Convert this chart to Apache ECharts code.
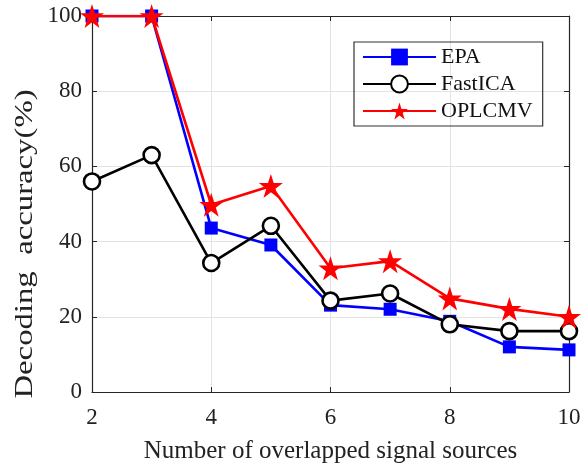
<!DOCTYPE html>
<html><head><meta charset="utf-8">
<script src="https://cdn.jsdelivr.net/npm/echarts@6/dist/echarts.min.js"></script>
<style>html,body{margin:0;padding:0;background:#fff}#c{width:581px;height:464px}</style>
</head><body><div id="c"></div>
<script>
var xValues = [2, 3, 4, 5, 6, 7, 8, 9, 10];
var epa = [100, 100, 43.6, 39.1, 23.1, 22, 18.8, 12, 11.2];
var fastica = [56, 63, 34.3, 44.2, 24.3, 26.2, 18, 16.2, 16.2];
var oplcmv = [100, 100, 49.8, 54.8, 32.9, 34.8, 24.9, 22.1, 20];
var yTicks = [0, 20, 40, 60, 80, 100];
var xTicks = [2, 4, 6, 8, 10];
var xTitle = 'Number of overlapped signal sources';
var yTitle = 'Decoding  accuracy(%)';

function pairs(v){ return xValues.map(function(x,i){ return [x, v[i]]; }); }
var font = '"Liberation Serif", "Times New Roman", serif';
var chart = echarts.init(document.getElementById('c'));
var axisBase = {
  axisLine: {show: true, onZero: false, lineStyle: {color: '#262626', width: 1.2}},
  axisTick: {show: true, inside: true, length: 5, lineStyle: {color: '#262626'}}
};
chart.setOption({
  animation: false,
  backgroundColor: '#fff',
  grid: {left: 92, right: 12, top: 16, bottom: 72, containLabel: false, outerBoundsMode: 'none'},
  legend: {
    orient: 'vertical', left: 354, top: 42,
    borderColor: '#333', borderWidth: 1.2,
    padding: [4, 10, 4, 8], itemGap: 5,
    itemWidth: 73, itemHeight: 21,
    textStyle: {fontFamily: font, fontSize: 22, color: '#111'},
    data: ['EPA', 'FastICA', 'OPLCMV']
  },
  graphic: [{
    type: 'text', x: 25, y: 244, rotation: Math.PI / 2, scaleX: 1.26,
    style: {text: yTitle, font: '26px ' + font, fill: '#222', textAlign: 'center', textVerticalAlign: 'middle'}
  }],
  xAxis: [
    Object.assign({type: 'value', min: xTicks[0], max: xTicks[xTicks.length-1], interval: 2,
      name: xTitle, nameLocation: 'middle', nameGap: 47,
      nameTextStyle: {fontFamily: font, fontSize: 25, color: '#222'},
      axisLabel: {fontFamily: font, fontSize: 23, color: '#222', margin: 14},
      splitLine: {show: true, lineStyle: {color: '#e3e3e3', width: 1}}}, axisBase),
    Object.assign({type: 'value', position: 'top', min: 2, max: 10, interval: 2,
      axisLabel: {show: false}, splitLine: {show: false}}, axisBase)
  ],
  yAxis: [
    Object.assign({type: 'value', min: yTicks[0], max: yTicks[yTicks.length-1], interval: 20,
      axisLabel: {fontFamily: font, fontSize: 23, color: '#222', margin: 10},
      splitLine: {show: true, lineStyle: {color: '#e3e3e3', width: 1}}}, axisBase),
    Object.assign({type: 'value', position: 'right', min: 0, max: 100, interval: 20,
      axisLabel: {show: false}, splitLine: {show: false}}, axisBase)
  ],
  series: [
    {name: 'EPA', type: 'line', data: pairs(epa), symbol: 'rect', symbolSize: 13,
      lineStyle: {color: '#0000ff', width: 2.6}, itemStyle: {color: '#0000ff'}, z: 2},
    {name: 'FastICA', type: 'line', data: pairs(fastica), symbol: 'circle', symbolSize: 16, showAllSymbol: true,
      lineStyle: {color: '#000', width: 2.6}, itemStyle: {color: '#fff', borderColor: '#000', borderWidth: 2.6}, z: 3},
    {name: 'OPLCMV', type: 'line', data: pairs(oplcmv),
      symbol: 'path://M50,0 L61.8,36.2 L100,36.2 L69.1,58.8 L80.9,95.1 L50,72.7 L19.1,95.1 L30.9,58.8 L0,36.2 L38.2,36.2 Z',
      symbolSize: 24, lineStyle: {color: '#ff0000', width: 2.6}, itemStyle: {color: '#ff0000'}, z: 4}
  ]
});
</script></body></html>
